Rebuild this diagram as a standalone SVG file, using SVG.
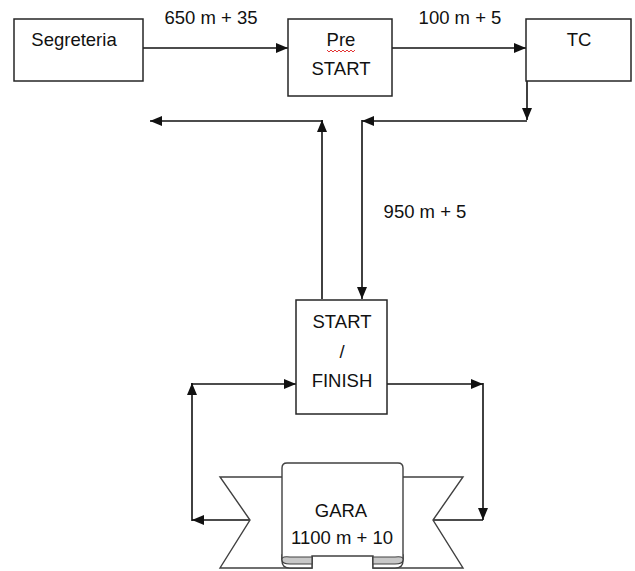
<svg xmlns="http://www.w3.org/2000/svg" width="635" height="571" viewBox="0 0 635 571">
<defs>
<style>
.box{fill:#fff;stroke:#262626;stroke-width:1.5}
.t{font-family:"Liberation Sans",Arial,sans-serif;font-size:18.5px;fill:#111;text-anchor:middle}
.c{fill:none;stroke:#111;stroke-width:1.6}
.a{marker-end:url(#ah)}
.rb{fill:#fff;stroke:#404040;stroke-width:1.4;stroke-linejoin:miter}
.curl{fill:#c8c8c8;stroke:#404040;stroke-width:1.2}
</style>
<marker id="ah" viewBox="0 0 12 10" refX="12" refY="5" markerWidth="12" markerHeight="10" markerUnits="userSpaceOnUse" orient="auto">
<path d="M0,0 L12,5 L0,10 z" fill="#111"/>
</marker>
</defs>
<rect width="635" height="571" fill="#fff"/>

<g id="connectors">
<line class="c a" x1="143" y1="48" x2="288" y2="48"/>
<line class="c a" x1="392" y1="48" x2="526" y2="48"/>
<line class="c a" x1="527" y1="81" x2="527" y2="120"/>
<line class="c a" x1="527" y1="121" x2="362" y2="121"/>
<line class="c a" x1="362" y1="120" x2="362" y2="299"/>
<line class="c a" x1="322" y1="299" x2="322" y2="120"/>
<line class="c a" x1="323" y1="121" x2="150" y2="121"/>
<line class="c a" x1="387" y1="384" x2="483" y2="384"/>
<line class="c a" x1="483" y1="383" x2="483" y2="520"/>
<line class="c" x1="483" y1="520" x2="433" y2="520"/>
<line class="c a" x1="250" y1="520" x2="192" y2="520"/>
<line class="c a" x1="192" y1="521" x2="192" y2="383"/>
<line class="c a" x1="191" y1="384" x2="296" y2="384"/>
</g>

<g id="segreteria">
<rect class="box" x="14" y="19" width="129" height="62"/>
<text class="t" x="74" y="46">Segreteria</text>
</g>

<g id="prestart">
<rect class="box" x="288" y="19" width="104" height="77"/>
<text class="t" x="341" y="46">Pre</text>
<path d="M327,50 l2,2 l2,-2 l2,2 l2,-2 l2,2 l2,-2 l2,2 l2,-2 l2,2 l2,-2 l2,2 l2,-2 l2,2 l2,-2" fill="none" stroke="#e02020" stroke-width="0.9"/>
<text class="t" x="341" y="75">START</text>
</g>

<g id="tc">
<rect class="box" x="526" y="19" width="105" height="62"/>
<text class="t" x="579" y="46">TC</text>
</g>

<g id="labels">
<text class="t" x="211" y="24">650 m + 35</text>
<text class="t" x="460" y="24">100 m + 5</text>
<text class="t" x="425" y="218">950 m + 5</text>
</g>

<g id="startfinish">
<rect class="box" x="296" y="300" width="91" height="114"/>
<text class="t" x="342" y="328">START</text>
<text class="t" x="342" y="358">/</text>
<text class="t" x="342" y="387">FINISH</text>
</g>

<g id="gara">
<path class="rb" d="M295,477 L220,477 L250,520 L220,568 L312,568 L312,556"/>
<path class="rb" d="M390,477 L463,477 L433,520 L463,568 L373,568 L373,556"/>
<path class="rb" d="M282,555 L282,561 Q282,568 290,568 L312,568 L312,555 Z"/>
<path class="rb" d="M403,555 L403,561 Q403,568 395,568 L373,568 L373,555 Z"/>
<path class="rb" d="M282,559 L282,468 Q282,463 287,463 L398,463 Q403,463 403,468 L403,559 L373,559 L373,556 L312,556 L312,559 Z"/>
<path class="curl" d="M282,559 Q282,556 290,557 L312,557 L312,564 L290,564 Q282,564 282,560 Z"/>
<path class="curl" d="M403,559 Q403,556 395,557 L373,557 L373,564 L395,564 Q403,564 403,560 Z"/>
<text class="t" x="341" y="517">GARA</text>
<text class="t" x="342" y="544">1100 m + 10</text>
</g>
</svg>
